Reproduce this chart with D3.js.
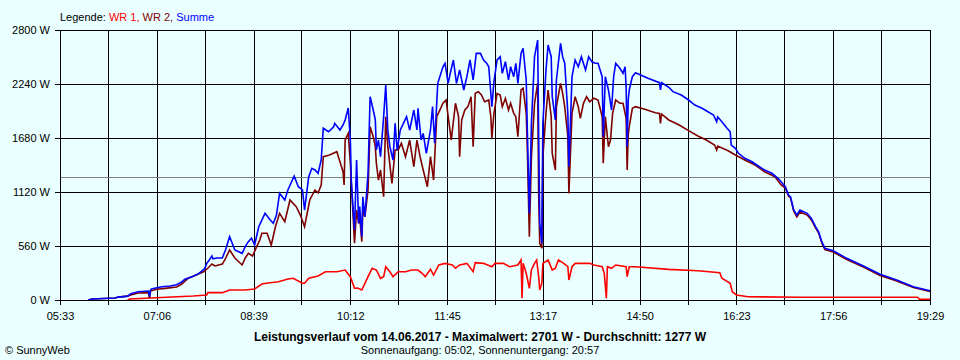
<!DOCTYPE html>
<html><head><meta charset="utf-8">
<script src="https://cdn.jsdelivr.net/npm/d3@7"></script>
<style>
html,body{margin:0;padding:0;background:#EAFFFF;}
svg{display:block;font-family:"Liberation Sans",Arial,sans-serif;}
</style></head><body>
<svg id="chart" width="960" height="360"></svg>
<script>
// ---------- data ----------
const yTicks = [0, 560, 1120, 1680, 2240, 2800];
const xGridTimes = ["05:33","06:19","07:06","07:52","08:39","09:25","10:12","10:58","11:45","12:31","13:17","14:04","14:50","15:36","16:23","17:09","17:56","18:42","19:29"];
const xTickLabels = ["05:33","07:06","08:39","10:12","11:45","13:17","14:50","16:23","17:56","19:29"];
const averageW = 1277;
const legendItems = ["WR 1", "WR 2", "Summe"];
const titleText = "Leistungsverlauf vom 14.06.2017 - Maximalwert: 2701 W - Durchschnitt: 1277 W";
const subText = "Sonnenaufgang: 05:02, Sonnenuntergang: 20:57";
const creditText = "\u00A9 SunnyWeb";

const wr1 = [
["06:38",0],["06:40",10],["07:00",21],["07:41",41],["07:54",52],["07:55",76],["08:09",76],["08:16",104],["08:31",104],
["08:40",114],["08:47",166],["08:53",176],["09:03",190],["09:12",218],["09:17",225],["09:26",173],["09:28",173],["09:32",225],
["09:41",249],["09:48",293],["09:59",293],["10:07",311],["10:12",242],["10:16",121],["10:19",124],["10:23",104],["10:26",173],
["10:29",242],["10:33",329],["10:37",311],["10:41",225],["10:44",242],["10:46",345],["10:50",293],["10:53",242],["10:58",293],
["11:05",293],["11:11",311],["11:17",311],["11:21",277],["11:24",242],["11:29",318],["11:32",259],["11:37",363],["11:43",380],
["11:50",363],["11:53",329],["11:57",363],["12:04",380],["12:10",293],["12:12",387],["12:20",380],["12:28",345],["12:31",380],
["12:39",380],["12:45",345],["12:53",363],["12:56",415],["12:57",18],["12:58",380],["13:01",277],["13:04",121],["13:06",311],
["13:09",380],["13:11",415],["13:13",242],["13:14",104],["13:16",173],["13:17",380],["13:22",415],["13:26",311],["13:29",329],
["13:32",415],["13:37",380],["13:41",345],["13:42",207],["13:45",345],["13:48",380],["14:02",380],["14:06",363],["14:14",345],
["14:16",277],["14:18",18],["14:19",345],["14:23",329],["14:27",363],["14:37",345],["14:38",242],["14:40",345],["14:46",345],
["15:18",318],["15:46",304],["16:07",283],["16:09",225],["16:17",173],["16:19",86],["16:23",52],["16:34",34],["17:24",28],
["19:17",28],["19:19",7],["19:29",7]
];

const wr2 = [
["06:00",0],["06:04",10],["06:26",20],["06:29",30],["06:38",40],["06:41",52],["06:48",73],["06:58",76],["06:59",21],["07:00",93],
["07:06",111],["07:14",121],["07:25",135],["07:30",166],["07:36",225],["07:44",259],["07:51",293],["07:55",329],["07:59",373],
["08:02",353],["08:09",373],["08:12",430],["08:16",519],["08:21",436],["08:28",363],["08:31",436],["08:34",484],["08:38",456],
["08:42",553],["08:45",622],["08:47",692],["08:52",692],["08:56",570],["09:00",760],["09:04",899],["09:09",812],["09:14",1037],
["09:20",968],["09:24",881],["09:28",760],["09:33",1037],["09:38",1141],["09:41",1110],["09:44",1193],["09:46",1486],["09:52",1504],
["09:59",1538],["10:02",1434],["10:05",1331],["10:06",1193],["10:07",1659],["10:10",1728],["10:12",1418],["10:13",1210],["10:16",588],
["10:18",933],["10:20",795],["10:21",864],["10:23",605],["10:24",933],["10:26",864],["10:29",1141],["10:31",1797],["10:34",1693],
["10:36",1590],["10:37",1418],["10:39",1244],["10:41",1348],["10:44",1071],["10:46",1901],["10:48",1590],["10:52",1210],["10:55",1556],
["10:58",1556],["11:01",1625],["11:05",1486],["11:09",1659],["11:13",1382],["11:16",1659],["11:19",1486],["11:22",1348],["11:26",1175],
["11:29",1486],["11:32",1244],["11:35",1901],["11:38",1970],["11:41",2040],["11:44",2074],["11:46",1901],["11:49",1659],["11:53",2040],
["11:56",1901],["11:57",1486],["11:59",1867],["12:02",1970],["12:05",2005],["12:08",2108],["12:10",1590],["12:12",2143],["12:15",2160],
["12:18",2126],["12:21",2056],["12:25",2074],["12:27",1901],["12:28",1680],["12:30",1936],["12:33",2143],["12:36",2126],["12:38",2005],
["12:41",2092],["12:44",1970],["12:46",2040],["12:49",1936],["12:51",1901],["12:53",1693],["12:56",2178],["12:58",2195],["13:01",1936],
["13:02",1590],["13:04",656],["13:06",1486],["13:09",2040],["13:12",2247],["13:13",1071],["13:14",588],["13:16",536],["13:17",1486],
["13:20",1936],["13:22",2178],["13:25",1901],["13:26",1521],["13:29",1348],["13:30",2005],["13:34",2247],["13:36",2143],["13:38",2005],
["13:41",1693],["13:42",1106],["13:45",1936],["13:48",2108],["13:51",2005],["13:53",1884],["13:56",2040],["13:59",2108],["14:02",2056],
["14:06",2092],["14:10",2074],["14:14",1901],["14:15",1418],["14:17",1901],["14:20",1590],["14:22",1659],["14:24",1936],["14:27",2074],
["14:31",2040],["14:34",2040],["14:36",1936],["14:37",1887],["14:38",1348],["14:39",1711],["14:40",1797],["14:43",1988],["14:46",2005],
["14:55",1978],["15:05",1942],["15:09",1934],["15:10",1832],["15:11",1929],["15:18",1867],["15:28",1815],["15:37",1756],["15:46",1701],
["15:54",1659],["16:02",1607],["16:04",1556],["16:05",1597],["16:15",1548],["16:22",1504],["16:31",1452],["16:41",1400],["16:50",1330],
["17:00",1279],["17:06",1193],["17:10",1161],["17:13",1079],["17:15",1058],["17:18",923],["17:21",861],["17:24",913],["17:31",881],
["17:35",830],["17:39",747],["17:42",695],["17:45",591],["17:48",524],["17:56",498],["18:09",420],["18:25",342],["18:41",254],
["18:57",197],["19:13",130],["19:29",88]
];

const summe = [
["06:00",0],["06:04",10],["06:26",20],["06:29",30],["06:38",40],["06:41",65],["06:48",86],["06:58",93],["06:59",34],["07:00",104],
["07:01",114],["07:06",128],["07:11",138],["07:19",145],["07:25",159],["07:30",187],["07:33",215],["07:40",242],["07:45",266],
["07:48",290],["07:52",325],["07:54",380],["07:56",408],["07:59",456],["08:00",428],["08:04",436],["08:09",436],["08:12",519],
["08:16",656],["08:21",519],["08:28",484],["08:31",553],["08:34",605],["08:37",640],["08:40",570],["08:44",760],["08:50",899],
["08:55",830],["08:58",795],["09:01",880],["09:04",1107],["09:09",1037],["09:12",1141],["09:18",1286],["09:22",1175],["09:26",1141],
["09:28",933],["09:32",1279],["09:35",1366],["09:38",1348],["09:41",1314],["09:44",1452],["09:46",1781],["09:51",1745],["09:56",1797],
["09:57",1832],["10:02",1763],["10:05",1815],["10:07",1867],["10:10",1991],["10:12",1659],["10:13",1213],["10:16",726],["10:18",1452],
["10:20",795],["10:21",968],["10:23",656],["10:24",1071],["10:26",864],["10:29",1314],["10:31",2108],["10:34",1970],["10:36",1867],
["10:37",1556],["10:39",1659],["10:41",1486],["10:44",1901],["10:46",2230],["10:48",1763],["10:50",1590],["10:53",1452],["10:55",1832],
["10:57",1556],["11:00",1763],["11:03",1832],["11:06",1901],["11:09",1763],["11:13",1970],["11:16",1763],["11:17",1988],["11:20",1659],
["11:22",1728],["11:25",1521],["11:29",1763],["11:31",2005],["11:33",1625],["11:36",2247],["11:38",2316],["11:41",2419],["11:43",2455],
["11:46",2247],["11:48",2351],["11:51",2489],["11:54",2247],["11:57",2385],["12:01",2178],["12:04",2316],["12:07",2489],["12:10",2282],
["12:13",2558],["12:17",2558],["12:20",2489],["12:23",2455],["12:25",2419],["12:28",2005],["12:30",2264],["12:33",2489],["12:36",2523],
["12:38",2351],["12:41",2471],["12:44",2282],["12:46",2419],["12:49",2316],["12:51",2455],["12:53",2247],["12:56",2558],["12:58",2610],
["13:01",2282],["13:02",1797],["13:04",899],["13:06",1832],["13:09",2523],["13:12",2696],["13:13",1659],["13:14",795],["13:16",588],
["13:17",1832],["13:20",2385],["13:22",2644],["13:25",2523],["13:26",2108],["13:29",1867],["13:30",2282],["13:34",2662],["13:36",2523],
["13:38",2455],["13:41",1936],["13:42",1382],["13:45",2316],["13:48",2489],["13:51",2419],["13:54",2523],["13:58",2385],["14:01",2523],
["14:04",2471],["14:07",2455],["14:10",2455],["14:14",2316],["14:15",1693],["14:17",2316],["14:20",2178],["14:23",1970],["14:25",2316],
["14:27",2455],["14:31",2403],["14:34",2351],["14:36",2419],["14:37",2212],["14:38",1590],["14:39",2074],["14:40",2178],["14:43",2316],
["14:46",2357],["14:58",2299],["15:09",2254],["15:10",2178],["15:11",2254],["15:18",2206],["15:22",2161],["15:30",2126],["15:37",2074],
["15:43",2022],["15:50",1988],["15:56",1950],["16:01",1919],["16:04",1849],["16:05",1898],["16:09",1849],["16:14",1781],["16:17",1745],
["16:18",1607],["16:22",1573],["16:25",1521],["16:31",1469],["16:38",1434],["16:44",1390],["16:50",1348],["16:57",1314],["17:03",1262],
["17:10",1175],["17:13",1089],["17:15",1068],["17:18",933],["17:21",881],["17:24",933],["17:31",899],["17:35",847],["17:39",760],
["17:42",708],["17:45",605],["17:48",536],["17:56",511],["18:09",432],["18:25",353],["18:41",267],["18:57",207],["19:13",138],
["19:29",96]
];

// ---------- drawing ----------
const toMin = s => { const p = s.split(":"); return (+p[0]) * 60 + (+p[1]); };
const svg = d3.select("#chart");
const W = 960, H = 360;
const m = {left: 60, right: 30, top: 30, bottom: 60};
const x = d3.scaleLinear().domain([toMin(xGridTimes[0]), toMin(xGridTimes[xGridTimes.length - 1])]).range([m.left, W - m.right]);
const y = d3.scaleLinear().domain([0, 2800]).range([H - m.bottom, m.top]);

svg.append("rect").attr("width", W).attr("height", H).attr("fill", "#EAFFFF");

// grid
const grid = svg.append("g").attr("shape-rendering", "crispEdges");
grid.selectAll("line.v").data(xGridTimes).join("line").attr("class", "v")
  .attr("x1", d => Math.round(x(toMin(d))) + 0.5).attr("x2", d => Math.round(x(toMin(d))) + 0.5)
  .attr("y1", y(2800)).attr("y2", y(0)).attr("stroke", "#000").attr("stroke-width", 1);
grid.selectAll("line.h").data(yTicks).join("line").attr("class", "h")
  .attr("x1", x.range()[0]).attr("x2", x.range()[1])
  .attr("y1", d => Math.round(y(d)) + 0.5).attr("y2", d => Math.round(y(d)) + 0.5)
  .attr("stroke", "#000").attr("stroke-width", 1);

// average line
svg.append("line").attr("shape-rendering", "crispEdges")
  .attr("x1", x.range()[0]).attr("x2", x.range()[1])
  .attr("y1", Math.round(y(averageW)) + 0.5).attr("y2", Math.round(y(averageW)) + 0.5)
  .attr("stroke", "#808080").attr("stroke-width", 1);

// axes
const xAxis = d3.axisBottom(x).tickValues(xGridTimes.map(toMin)).tickSize(5).tickPadding(7)
  .tickFormat(v => { const s = xGridTimes.find(t => toMin(t) === v); return xTickLabels.includes(s) ? s : ""; });
const gx = svg.append("g").attr("transform", `translate(0,${y(0)})`).call(xAxis);
const yAxis = d3.axisLeft(y).tickValues(yTicks).tickSize(5).tickPadding(5).tickFormat(d => d + " W");
const gy = svg.append("g").attr("transform", `translate(${x.range()[0]},0)`).call(yAxis);
[gx, gy].forEach(g => {
  g.attr("font-family", '"Liberation Sans", Arial, sans-serif').attr("font-size", 11);
  g.selectAll("path.domain").attr("stroke", "#000").attr("shape-rendering", "crispEdges");
  g.selectAll(".tick line").attr("stroke", "#000").attr("shape-rendering", "crispEdges");
  g.selectAll(".tick text").attr("fill", "#000");
});

// lines
const line = d3.line().x(d => x(toMin(d[0]))).y(d => y(d[1]));
const series = [
  {data: wr1, color: "#FF0000"},
  {data: wr2, color: "#800000"},
  {data: summe, color: "#0000FF"}
];
svg.append("g").selectAll("path").data(series).join("path")
  .attr("d", s => line(s.data)).attr("fill", "none")
  .attr("stroke", s => s.color).attr("stroke-width", 1.6).attr("stroke-linejoin", "miter");

// frame
svg.append("rect").attr("shape-rendering", "crispEdges")
  .attr("x", x.range()[0] + 0.5).attr("y", y(2800) + 0.5)
  .attr("width", x.range()[1] - x.range()[0]).attr("height", y(0) - y(2800))
  .attr("fill", "none").attr("stroke", "#000");

// legend
const legendColors = ["#FF0000", "#800000", "#0000FF"];
const lt = svg.append("text").attr("x", 60).attr("y", 21).attr("font-size", 11);
lt.append("tspan").attr("fill", "#000").text("Legende: ");
legendItems.forEach((t, i) => {
  lt.append("tspan").attr("fill", legendColors[i]).text(t + (i < legendItems.length - 1 ? ", " : ""));
});

// footer
svg.append("text").attr("x", 480).attr("y", 341).attr("text-anchor", "middle")
  .attr("font-size", 12).attr("font-weight", "bold").attr("fill", "#000").text(titleText);
svg.append("text").attr("x", 480).attr("y", 354).attr("text-anchor", "middle")
  .attr("font-size", 11).attr("fill", "#000").text(subText);
svg.append("text").attr("x", 5).attr("y", 354).attr("font-size", 11).attr("fill", "#000").text(creditText);
</script>
</body></html>
